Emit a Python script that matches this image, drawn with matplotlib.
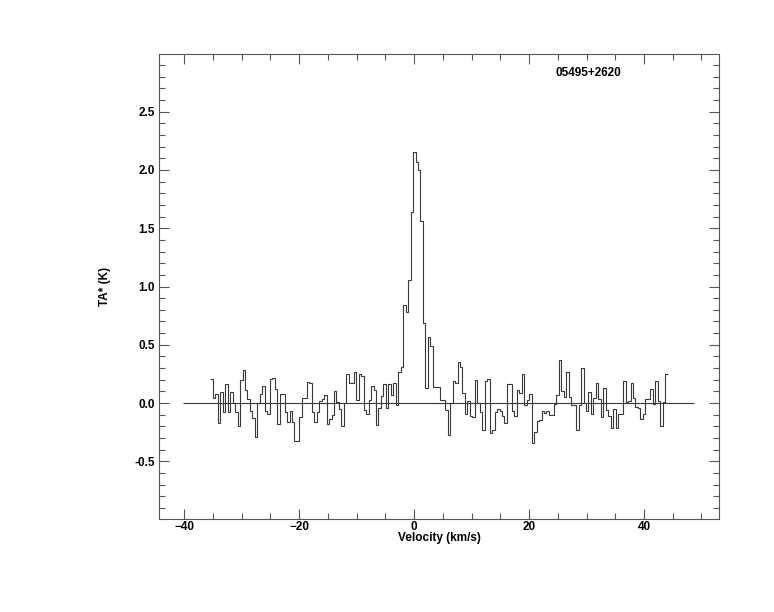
import numpy as np
import matplotlib
matplotlib.use("Agg")
import matplotlib.pyplot as plt
from matplotlib.ticker import MultipleLocator

plt.rcParams['font.family'] = ['Liberation Sans', 'DejaVu Sans']

# Spectrum: channel start velocity, channel width (km/s), antenna temperature (K)
v_start = -35.45
dv = 0.43
ta = [
    0.21, 0.04, 0.08, -0.17, 0.095, -0.08, 0.16, -0.08, 0.095, 0.0,
    -0.08, -0.2, 0.2, 0.28, 0.115, 0.035, -0.07, -0.13, -0.29, 0.0,
    0.08, 0.15, -0.07, -0.095, 0.21, 0.215, 0.12, -0.18, 0.08, 0.08,
    -0.08, -0.16, -0.07, -0.16, -0.33, -0.33, -0.12, 0.04, 0.04, 0.18,
    0.17, -0.08, -0.16, -0.08, 0.02, 0.035, 0.07, -0.18, -0.14, -0.1,
    0.1, 0.005, -0.05, -0.2, 0.0, 0.245, 0.17, 0.17, 0.27, 0.03,
    0.245, 0.235, -0.06, -0.095, 0.03, 0.15, 0.11, -0.19, -0.04, 0.06,
    0.16, -0.04, 0.16, 0.065, 0.17, -0.02, 0.27, 0.31, 0.84, 0.78,
    1.06, 1.64, 2.15, 2.07, 2.0, 1.56, 0.69, 0.13, 0.57, 0.49,
    0.14, 0.14, 0.14, 0.03, 0.03, -0.06, -0.27, 0.0, 0.19, 0.17,
    0.35, 0.31, 0.09, -0.09, 0.015, -0.115, -0.12, 0.195, 0.0, -0.08,
    -0.23, 0.19, 0.21, -0.26, -0.23, -0.08, -0.05, -0.07, -0.115, -0.17,
    0.165, 0.165, -0.07, -0.11, 0.11, 0.085, 0.25, -0.015, 0.03, 0.08,
    -0.34, -0.245, -0.15, -0.145, -0.065, -0.085, -0.07, -0.1, -0.1, -0.01,
    0.07, 0.37, 0.105, 0.055, 0.27, 0.05, -0.015, -0.015, -0.23, -0.02,
    0.3, 0.0, -0.07, 0.095, -0.09, 0.04, 0.17, 0.035, -0.12, 0.13,
    -0.06, -0.115, -0.21, -0.05, -0.21, -0.09, -0.09, 0.19, 0.01, 0.015,
    0.17, 0.04, -0.03, -0.04, -0.14, -0.09, 0.035, 0.035, 0.12, -0.01,
    0.19, 0.015, -0.2, 0.005, 0.25,
]
baseline_range = [-40.2, 48.7]
source_name = "05495+2620"
xlabel = "Velocity (km/s)"
ylabel = "TA* (K)"
xlim = (-44.4, 53.05)
ylim = (-0.995, 2.995)

edges = v_start + dv * np.arange(len(ta) + 1)

fig = plt.figure(figsize=(7.74, 6.12), dpi=100)
ax = fig.add_axes([159 / 774, 1 - 519 / 612, (719 - 159) / 774, (519 - 54) / 612])

lc = '#383838'
ax.stairs(ta, edges, baseline=None, color=lc, linewidth=0.8)
ax.hlines(0.0, baseline_range[0], baseline_range[1], color=lc, linewidth=0.8)

ax.set_xlim(*xlim)
ax.set_ylim(*ylim)

ax.xaxis.set_major_locator(MultipleLocator(20))
ax.xaxis.set_minor_locator(MultipleLocator(5))
ax.yaxis.set_major_locator(MultipleLocator(0.5))
ax.yaxis.set_minor_locator(MultipleLocator(0.1))
ax.yaxis.set_major_formatter(matplotlib.ticker.FormatStrFormatter('%.1f'))

ax.tick_params(which='both', direction='in', top=True, right=True,
               color='#555555', width=0.8)
ax.tick_params(which='major', length=7, labelsize=8.5)
ax.tick_params(axis='x', which='major', pad=1.5)
ax.tick_params(axis='y', which='major', pad=3)
ax.tick_params(which='minor', length=4.5)
for lab in ax.get_xticklabels() + ax.get_yticklabels():
    lab.set_fontweight('bold')
for s in ax.spines.values():
    s.set_color('#555555')
    s.set_linewidth(0.8)

ax.set_xlabel(xlabel, fontsize=8.5, fontweight='bold', labelpad=-1)
ax.set_ylabel(ylabel, fontsize=8.5, fontweight='bold', labelpad=17)

ax.text(30.3, 2.83, source_name, fontsize=8.5, fontweight='bold',
        ha='center', va='center')

fig.savefig('out.png', dpi=100)
